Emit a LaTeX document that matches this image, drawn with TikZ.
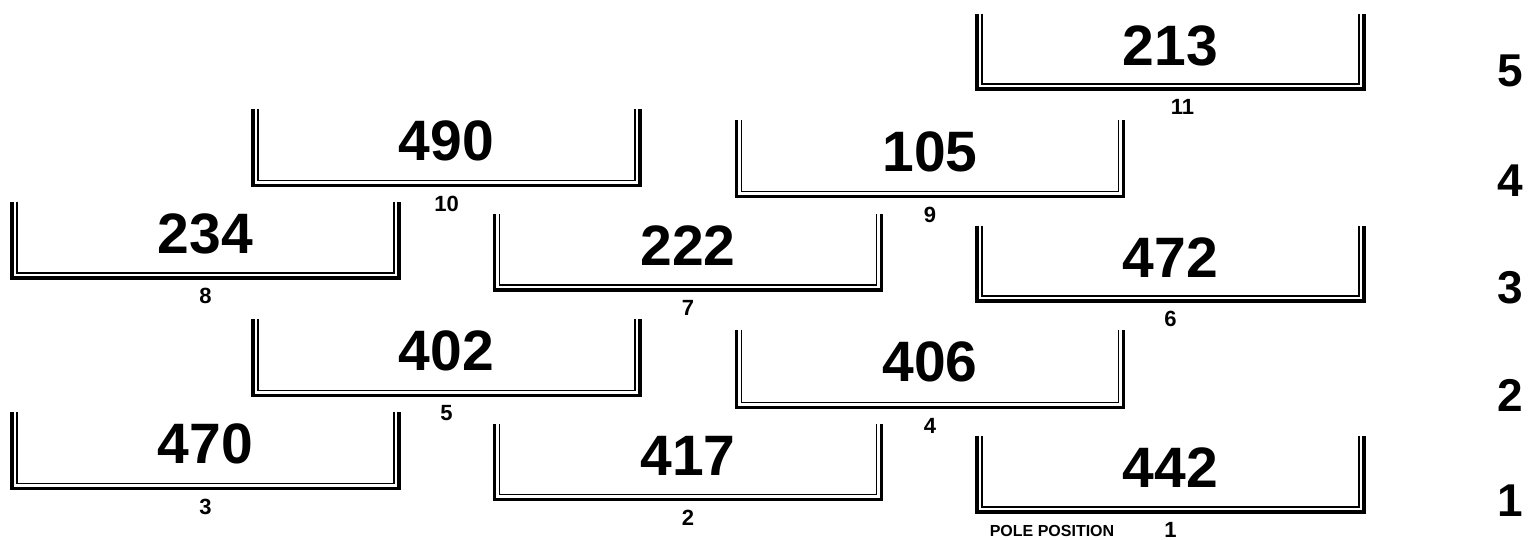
\documentclass[tikz,border=0pt]{standalone}
\usepackage{fontspec}
\setmainfont{Liberation Sans}
\tikzset{
  outerline/.style={line width=3.4pt, line join=miter},
  innerline/.style={line width=1.8pt, line join=miter},
  bignum/.style={font=\fontsize{57}{60}\selectfont\bfseries, inner sep=0pt},
  poslabel/.style={font=\fontsize{22}{24}\selectfont\bfseries, inner sep=0pt},
  rownum/.style={font=\fontsize{46}{50}\selectfont\bfseries, inner sep=0pt},
  polelabel/.style={font=\fontsize{16}{18}\selectfont\bfseries, inner sep=0pt}
}
% #1 name, #2 left x, #3 top y, #4 bottom y, #5 number, #6 label, #7 label x offset
\newcommand\gridbox[7]{%
  \draw[outerline] (#2,#3) -- (#2,#4) -- (#2+387,#4) -- (#2+387,#3);
  \draw[innerline] (#2+5,#3) -- (#2+5,#4-5) -- (#2+382,#4-5) -- (#2+382,#3);
  \node[bignum] (#1) at (#2+193.5,#3+32) {#5};
  \node[poslabel] (#1lab) at (#2+193.5+#7,#4+18) {#6};
}
\begin{document}
\begin{tikzpicture}[x=1pt,y=-1pt]
\useasboundingbox (0,0) rectangle (1531,540);
% row 1
\gridbox{b3}{12}{412}{488.5}{470}{3}{0}
\gridbox{b2}{494.5}{424}{499.5}{417}{2}{0}
\gridbox{b1}{977}{436}{512}{442}{1}{0}
% row 2
\gridbox{b5}{253}{319}{395.5}{402}{5}{0}
\gridbox{b4}{736.5}{330}{407.5}{406}{4}{0}
% row 3
\gridbox{b8}{12}{202}{278}{234}{8}{0}
\gridbox{b7}{494.5}{214}{290}{222}{7}{0}
\gridbox{b6}{977}{226}{301}{472}{6}{0}
% row 4
\gridbox{b10}{253}{109}{185.5}{490}{10}{0}
\gridbox{b9}{736.5}{120}{196.5}{105}{9}{0}
% row 5
\gridbox{b11}{977}{14}{89}{213}{11}{12}
\node[polelabel] (pole) at (1052,531) {POLE POSITION};
% row numbers
\node[rownum] (r5) at (1510,71) {5};
\node[rownum] (r4) at (1510,181) {4};
\node[rownum] (r3) at (1510,288) {3};
\node[rownum] (r2) at (1510,395) {2};
\node[rownum] (r1) at (1510,501) {1};
\end{tikzpicture}
\end{document}
